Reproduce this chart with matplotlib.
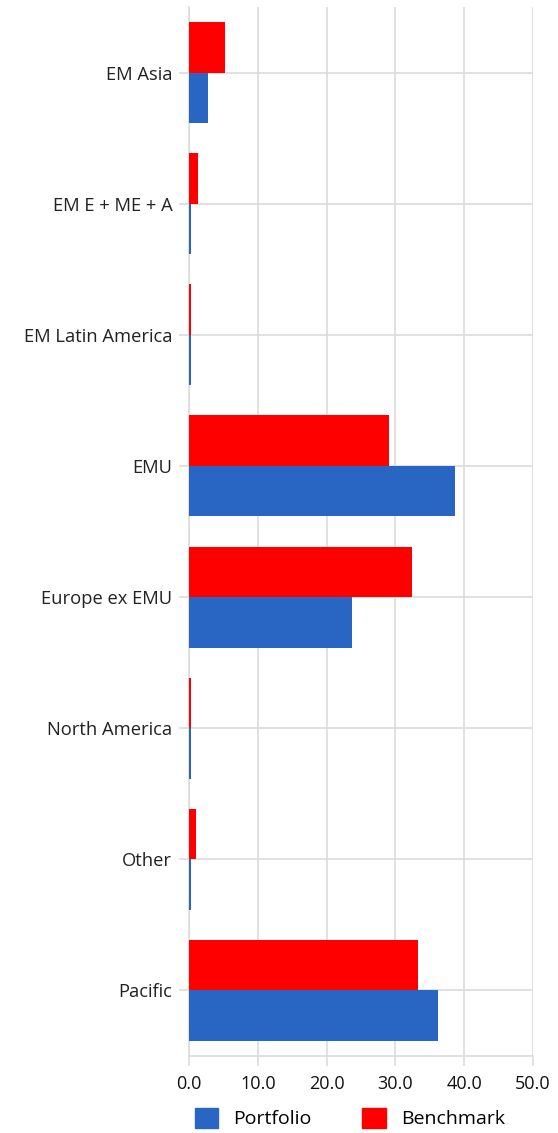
import matplotlib
matplotlib.use("Agg")
import matplotlib.pyplot as plt
from matplotlib.patches import Patch
import numpy as np

categories = ["EM Asia", "EM E + ME + A", "EM Latin America", "EMU",
              "Europe ex EMU", "North America", "Other", "Pacific"]
portfolio = [2.7, 0.3, 0.3, 38.6, 23.7, 0.3, 0.3, 36.2]
benchmark = [5.3, 1.25, 0.3, 29.0, 32.4, 0.3, 0.95, 33.3]
xticks = [0, 10, 20, 30, 40, 50]
xticklabels = ["0.0", "10.0", "20.0", "30.0", "40.0", "50.0"]

plt.rcParams['font.family'] = ['Open Sans', 'DejaVu Sans']

W, H = 558, 1133
fig = plt.figure(figsize=(W / 100, H / 100), dpi=100)
ax = fig.add_axes([189 / W, 1 - 1056 / H, (533 - 189) / W, (1056 - 7) / H])

blue = "#2966C4"
red = "#FF0000"
grid = "#DCDCDC"
h = 0.385
y = np.arange(len(categories))

ax.barh(y - h / 2, benchmark, height=h, color=red, zorder=3)
ax.barh(y + h / 2, portfolio, height=h, color=blue, zorder=3)

ax.set_xlim(0, 50)
ax.set_ylim(len(categories) - 0.5, -0.5)
ax.set_yticks(y)
ax.set_yticklabels(categories, fontsize=13.2)
ax.set_xticks(xticks)
ax.set_xticklabels(xticklabels, fontsize=13)

ax.grid(True, color=grid, linewidth=1.2, zorder=0)
for s in ["top", "right"]:
    ax.spines[s].set_visible(False)
for s in ["left", "bottom"]:
    ax.spines[s].set_color(grid)
    ax.spines[s].set_linewidth(1.2)
ax.tick_params(axis="y", length=7, width=1.2, color=grid, pad=5, labelcolor="#222222")
ax.tick_params(axis="x", length=7, width=1.2, color=grid, pad=7, labelcolor="#111111")

handles = [Patch(color=blue, label="Portfolio"), Patch(color=red, label="Benchmark")]
fig.legend(handles=handles, loc="center", bbox_to_anchor=(350 / W, 1 - 1118 / H),
           ncol=2, frameon=False, fontsize=14, handlelength=1.2, handleheight=1.2,
           columnspacing=2.6, handletextpad=0.8)

fig.savefig("out.png", dpi=100)
